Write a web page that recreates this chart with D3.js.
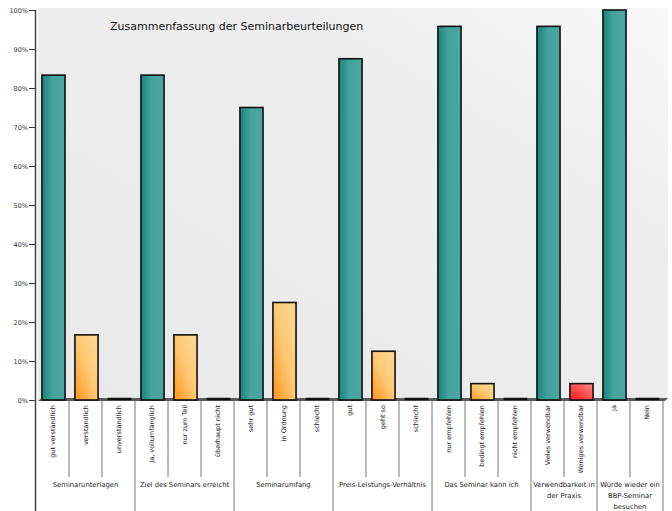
<!DOCTYPE html>
<html>
<head>
<meta charset="utf-8">
<script src="https://cdn.jsdelivr.net/npm/d3@7"></script>
<style>
  body { margin: 0; background: #fff; }
  svg { display: block; }
</style>
</head>
<body>
<script>
// answer labels, one per bar
const categories = ['gut verständlich', 'verständlich', 'unverständlich',
    'Ja, vollumfänglich', 'nur zum Teil', 'überhaupt nicht',
    'sehr gut', 'in Ordnung', 'schlecht',
    'gut', 'geht so', 'schlecht ',
    'nur empfehlen', 'bedingt empfehlen', 'nicht empfehlen',
    'Vieles verwendbar', 'Weniges verwendbar',
    'Ja', 'Nein'];
// percent of answers
const values = [83.3, 16.7, 0, 83.3, 16.7, 0, 75, 25, 0, 87.5, 12.5, 0, 95.8, 4.2, 0, 95.8, 4.2, 100, 0];
// colour family of each bar
const kinds = ['teal', 'orange', 'teal', 'teal', 'orange', 'teal', 'teal', 'orange', 'teal',
    'teal', 'orange', 'teal', 'teal', 'orange', 'teal', 'teal', 'red', 'teal', 'teal'];
// question groups under the axis
const groupLabels = [['Seminarunterlagen'], ['Ziel des Seminars erreicht'], ['Seminarumfang'],
    ['Preis-Leistungs-Verhältnis'], ['Das Seminar kann ich'], ['Verwendbarkeit in', 'der Praxis'],
    ['Würde wieder ein', 'BBP-Seminar', 'besuchen']];
const groupSizes = [3, 3, 3, 3, 3, 2, 2];
const yTicks = [0, 10, 20, 30, 40, 50, 60, 70, 80, 90, 100];

const W = 672, H = 511;
const plotLeft = 36, plotRight = 663, plotTop = 10, floorY = 400;
const font = 'DejaVu Sans, sans-serif';

const svg = d3.select('body').append('svg')
    .attr('width', W)
    .attr('height', H);

const defs = svg.append('defs');
function grad(id, x2, y1, stops) {
    const g = defs.append('linearGradient').attr('id', id)
        .attr('x1', 0).attr('y1', y1).attr('x2', x2).attr('y2', 0);
    stops.forEach(s => g.append('stop').attr('offset', s[0]).attr('stop-color', s[1]));
}
grad('teal', 1, 0, [[0, '#1a837d'], [0.45, '#45a29c'], [1, '#4ba6a0']]);
grad('orange', 1, 1, [[0, '#ff9418'], [0.5, '#ffc874'], [1, '#ffd996']]);
grad('red', 1, 1, [[0, '#ff1a1a'], [0.6, '#ff5a5a'], [1, '#ff8c8c']]);
grad('panel', 1, 1, [[0, '#e9e9e9'], [0.7, '#eeeeee'], [1, '#f8f8f8']]);

const x = d3.scaleBand()
    .domain(d3.range(categories.length))
    .range([plotLeft, plotRight]);
const y = d3.scaleLinear()
    .domain([0, 100])
    .range([floorY, plotTop]);
const step = x.step();

// plot panel
svg.append('rect')
    .attr('x', plotLeft + 2).attr('y', plotTop - 2)
    .attr('width', 668 - plotLeft - 2).attr('height', floorY - plotTop + 2)
    .attr('fill', 'url(#panel)');

// floor strip
svg.append('path')
    .attr('d', 'M' + (plotLeft + 2) + ',' + (floorY + 1) + 'L' + (plotLeft + 6) + ',' + (floorY - 2) +
        'L668,' + (floorY - 2) + 'L665,' + (floorY + 1) + 'Z')
    .attr('fill', '#5a5a5a');

// y axis
const yAxis = svg.append('g')
    .attr('transform', 'translate(' + plotLeft + ',0)')
    .call(d3.axisLeft(y).tickValues(yTicks).tickSize(7).tickFormat(d => d + '%'));
yAxis.select('.domain').remove();
yAxis.selectAll('line').attr('stroke', '#333');
yAxis.selectAll('text')
    .attr('x', -8)
    .style('font', '6.5px ' + font)
    .attr('fill', '#333');
svg.append('line')
    .attr('x1', plotLeft - 0.5).attr('x2', plotLeft - 0.5)
    .attr('y1', plotTop).attr('y2', H)
    .attr('stroke', '#444').attr('stroke-width', 1.5);

// bars
const bw = step * 0.7, off = step * 0.18;
svg.selectAll('.bar')
    .data(values)
    .enter()
    .append('rect')
    .attr('class', 'bar')
    .attr('x', (d, i) => x(i) + off)
    .attr('y', d => d > 0 ? y(d) : floorY - 2)
    .attr('width', bw)
    .attr('height', d => d > 0 ? floorY - y(d) : 2)
    .attr('fill', (d, i) => d > 0 ? 'url(#' + kinds[i] + ')' : '#111')
    .attr('stroke', '#111')
    .attr('stroke-width', d => d > 0 ? 1.6 : 0.5);

// category separators below the floor
const starts = [0];
groupSizes.forEach(s => starts.push(starts[starts.length - 1] + s));
svg.selectAll('.sep')
    .data(d3.range(1, categories.length + 1))
    .enter()
    .append('line')
    .attr('x1', i => i < categories.length ? x(i) : plotRight)
    .attr('x2', i => i < categories.length ? x(i) : plotRight)
    .attr('y1', floorY + 1)
    .attr('y2', i => starts.includes(i) ? H : 477)
    .attr('stroke', '#777')
    .attr('stroke-width', 1);

// category labels
svg.selectAll('.cat')
    .data(categories)
    .enter()
    .append('text')
    .attr('transform', (d, i) => 'translate(' + (x(i) + step / 2 + 2) + ',405) rotate(-90)')
    .attr('text-anchor', 'end')
    .style('font', '6.5px ' + font)
    .attr('fill', '#222')
    .text(d => d.trim());

// group labels
groupLabels.forEach((lines, g) => {
    const cx = (x(starts[g]) + (starts[g + 1] < categories.length ? x(starts[g + 1]) : plotRight)) / 2;
    const t = svg.append('text')
        .attr('text-anchor', 'middle')
        .style('font', '6.8px ' + font)
        .attr('fill', '#222');
    lines.forEach((l, k) => t.append('tspan')
        .attr('x', cx).attr('y', 487 + k * 10.8).text(l));
});

// title
svg.append('text')
    .attr('x', 110).attr('y', 30)
    .style('font', '11px ' + font)
    .attr('fill', '#111')
    .text('Zusammenfassung der Seminarbeurteilungen');
</script>
</body>
</html>
